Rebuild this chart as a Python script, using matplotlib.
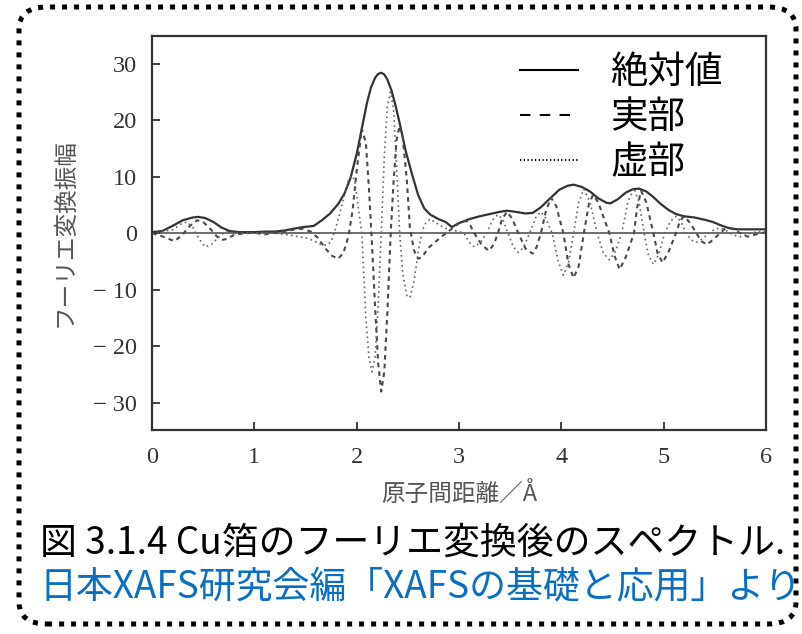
import matplotlib
matplotlib.use('Agg')
import matplotlib.pyplot as plt
from matplotlib.lines import Line2D
from matplotlib.patches import FancyBboxPatch

plt.rcParams['font.family'] = ['Noto Sans CJK JP', 'DejaVu Sans']

# magnitude |F(R)|
mag_r = [0.00, 0.10, 0.20, 0.30, 0.40, 0.45, 0.52, 0.60, 0.68, 0.76, 0.85, 1.00, 1.10, 1.20,
         1.30, 1.38, 1.48, 1.58, 1.66, 1.74, 1.82, 1.88, 1.94, 2.00, 2.05, 2.10, 2.14, 2.18,
         2.21, 2.24, 2.27, 2.30, 2.34, 2.38, 2.42, 2.48, 2.54, 2.60, 2.66, 2.72, 2.80, 2.87,
         2.93, 3.00, 3.10, 3.20, 3.30, 3.40, 3.47, 3.55, 3.65, 3.72, 3.80, 3.88, 3.98, 4.06,
         4.12, 4.20, 4.28, 4.36, 4.44, 4.48, 4.55, 4.63, 4.70, 4.76, 4.83, 4.90, 4.97, 5.05,
         5.12, 5.20, 5.30, 5.40, 5.48, 5.56, 5.64, 5.72, 5.85, 6.00]
mag_v = [0.2, 0.4, 1.3, 2.3, 2.8, 2.9, 2.7, 2.0, 1.0, 0.4, 0.2, 0.2, 0.3, 0.3,
         0.5, 0.8, 1.1, 1.3, 2.3, 3.5, 5.2, 7.0, 9.8, 14.0, 18.5, 23.0, 25.8, 27.5,
         28.2, 28.4, 28.1, 27.2, 25.3, 22.6, 19.5, 14.5, 10.5, 6.8, 4.4, 3.3, 2.5, 2.0,
         1.1, 1.8, 2.5, 3.0, 3.4, 3.8, 4.0, 3.8, 3.5, 3.6, 4.6, 6.0, 7.7, 8.4,
         8.6, 8.2, 7.4, 6.2, 5.4, 5.3, 6.0, 7.2, 7.8, 7.9, 7.4, 6.4, 5.2, 4.1,
         3.4, 3.0, 2.8, 2.4, 2.0, 1.4, 0.9, 0.7, 0.7, 0.7]

# real part
re_r = [0.00, 0.08, 0.15, 0.22, 0.30, 0.37, 0.44, 0.50, 0.57, 0.63, 0.68, 0.73, 0.80, 0.90,
        1.00, 1.10, 1.20, 1.30, 1.40, 1.47, 1.55, 1.62, 1.70, 1.76, 1.82, 1.87, 1.92, 1.96,
        2.00, 2.05, 2.09, 2.12, 2.15, 2.18, 2.21, 2.24, 2.27, 2.30, 2.33, 2.36, 2.39, 2.42,
        2.45, 2.49, 2.52, 2.56, 2.60, 2.64, 2.70, 2.77, 2.85, 2.93, 3.00, 3.07, 3.11, 3.15,
        3.22, 3.29, 3.34, 3.38, 3.42, 3.47, 3.52, 3.58, 3.65, 3.72, 3.76, 3.80, 3.85, 3.90,
        3.95, 4.02, 4.07, 4.12, 4.17, 4.22, 4.27, 4.31, 4.36, 4.42, 4.47, 4.52, 4.57, 4.63,
        4.71, 4.74, 4.78, 4.83, 4.90, 4.94, 4.99, 5.05, 5.12, 5.16, 5.20, 5.26, 5.32, 5.37,
        5.42, 5.48, 5.55, 5.60, 5.64, 5.70, 5.75, 5.82, 5.90, 6.00]
re_v = [0.0, -0.4, -0.9, -1.4, -0.2, 1.3, 2.3, 2.0, 0.8, -0.5, -1.2, -1.0, -0.3, 0.0,
        0.1, -0.2, 0.1, 0.3, 0.7, 0.8, 0.3, -0.8, -2.8, -4.0, -4.5, -3.5, -0.5, 4.0,
        11.0, 18.5, 16.0, 8.0, -2.0, -13.0, -23.0, -28.0, -24.5, -14.0, -1.0, 9.0, 16.5, 19.0,
        17.0, 9.5, 1.0, -3.0, -4.5, -4.2, -2.6, -1.5, -0.3, 0.8, 1.8, 2.2, 1.4, 0.0,
        -2.0, -3.1, -2.0, 0.0, 2.5, 3.8, 2.6, 0.0, -2.7, -3.6, -2.4, 0.0, 4.0, 6.3,
        4.8, 0.0, -5.5, -7.9, -5.8, 0.0, 5.2, 6.8, 5.5, 2.5, 0.0, -4.0, -6.4, -4.2,
        0.0, 4.5, 7.5, 5.5, 0.0, -3.5, -5.2, -3.2, 0.0, 2.2, 3.0, 1.8, 0.0, -1.4,
        -2.0, -1.2, 0.0, 0.8, 1.0, 0.5, 0.0, -0.6, -0.2, 0.2]

# imaginary part
im_r = [0.00, 0.10, 0.20, 0.28, 0.34, 0.40, 0.46, 0.52, 0.58, 0.65, 0.72, 0.78, 0.90, 1.00,
        1.10, 1.20, 1.30, 1.40, 1.50, 1.58, 1.65, 1.70, 1.75, 1.78, 1.82, 1.87, 1.92, 1.95,
        1.98, 2.02, 2.05, 2.09, 2.12, 2.15, 2.18, 2.21, 2.24, 2.27, 2.30, 2.33, 2.36, 2.39,
        2.42, 2.45, 2.49, 2.52, 2.56, 2.60, 2.64, 2.68, 2.72, 2.78, 2.85, 2.92, 3.00, 3.05,
        3.10, 3.15, 3.21, 3.27, 3.33, 3.38, 3.43, 3.48, 3.53, 3.58, 3.63, 3.69, 3.75, 3.80,
        3.85, 3.91, 3.97, 4.02, 4.07, 4.12, 4.17, 4.22, 4.28, 4.35, 4.41, 4.47, 4.53, 4.59,
        4.65, 4.71, 4.76, 4.81, 4.85, 4.90, 4.95, 5.01, 5.07, 5.12, 5.17, 5.22, 5.27, 5.32,
        5.38, 5.44, 5.50, 5.55, 5.60, 5.65, 5.70, 5.75, 5.80, 5.85, 5.92, 6.00]
im_v = [0.0, 0.3, 0.6, 1.6, 2.0, 1.0, -1.0, -2.4, -2.0, -0.7, 0.3, 0.2, 0.0, 0.0,
        0.2, 0.0, -0.2, -0.5, -0.8, -1.3, -2.0, -2.1, -1.5, 0.0, 2.5, 6.0, 9.5, 10.2,
        9.5, 4.0, 0.0, -15.0, -22.0, -24.5, -22.0, -13.0, 0.0, 13.5, 22.5, 25.0, 22.0, 12.0,
        0.0, -7.0, -11.0, -11.4, -8.5, -3.5, 0.5, 2.0, 2.5, 1.8, 1.0, 0.6, 0.3, 0.0,
        -1.6, -2.4, -1.6, 0.0, 2.4, 3.3, 2.4, 0.0, -2.4, -3.4, -2.5, 0.0, 2.8, 3.8,
        2.6, 0.0, -5.0, -7.4, -5.2, 0.0, 5.5, 7.8, 5.5, 0.0, -3.5, -4.7, -3.2, 0.0,
        5.5, 8.0, 5.5, 0.0, -3.8, -5.5, -3.8, 0.0, 2.2, 3.0, 2.0, 0.0, -1.2, -1.6,
        -1.0, 0.0, 0.7, 1.0, 0.6, 0.0, -0.4, -0.6, -0.3, 0.0, 0.3, 0.2]

xticks = [0, 1, 2, 3, 4, 5, 6]
yticks = [30, 20, 10, 0, -10, -20, -30]
ytick_labels = ['30', '20', '10', '0', '− 10', '− 20', '− 30']
labels = ['絶対値', '実部', '虚部']

fig = plt.figure(figsize=(8.03, 6.34), dpi=100)
ax = fig.add_axes([0.1893, 0.3218, 0.7646, 0.6214])

ax.axhline(0, color='#555555', lw=1.2, zorder=1)
ax.plot(mag_r, mag_v, color='#333333', lw=1.6, solid_joinstyle='round')
ax.plot(re_r, re_v, color='#4a4a4a', lw=1.5, linestyle=(0, (2.2, 2)))
ax.plot(im_r, im_v, color='#666666', lw=1.2, linestyle=(0, (1, 2)))

ax.set_xlim(0, 6)
ax.set_ylim(-34.8, 34.9)
ax.set_xticks(xticks)
ax.set_yticks(yticks)
ax.set_yticklabels(ytick_labels)
ax.tick_params(direction='in', length=6, width=1.3, color='#333333', labelsize=17.5,
               labelcolor='#333333', labelfontfamily='Liberation Serif')
ax.tick_params(axis='y', pad=11)
ax.tick_params(axis='x', pad=12)
for s in ax.spines.values():
    s.set_color('#333333')
    s.set_linewidth(1.6)

ax.set_ylabel('フーリエ変換振幅', fontsize=17, color='#555555', va='center')
ax.yaxis.set_label_coords(-0.142, 0.5)
ax.set_xlabel('原子間距離／Å', fontsize=17, color='#555555', va='center')
ax.xaxis.set_label_coords(0.5, -0.162)

handles = [Line2D([], [], color='black', lw=1.5),
           Line2D([], [], color='black', lw=1.5, linestyle=(0, (5, 4.5))),
           Line2D([], [], color='black', lw=1.5, linestyle=(0, (0.6, 1.2)))]
ax.legend(handles, labels, loc='upper left', bbox_to_anchor=(520 / 803, 1 - 53 / 634),
          bbox_transform=fig.transFigure, frameon=False, fontsize=27,
          handlelength=1.55, handletextpad=0.85, labelspacing=0.16, borderpad=0,
          borderaxespad=0)

fig.text(40 / 803, 1 - 543 / 634, '図 3.1.4 Cu箔のフーリエ変換後のスペクトル.',
         fontsize=26.6, color='black', ha='left', va='center')
fig.text(40 / 803, 1 - 587 / 634, '日本XAFS研究会編「XAFSの基礎と応用」より',
         fontsize=26.6, color='#0a6fc2', ha='left', va='center')

border = FancyBboxPatch((19 / 803, 10 / 634), 777 / 803, 617 / 634,
                        boxstyle='round,pad=0,rounding_size=0.035',
                        transform=fig.transFigure, fill=False, edgecolor='black',
                        lw=3.6, linestyle=(0, (1, 1.4)))
fig.patches.append(border)

fig.savefig('out.png', dpi=100)
